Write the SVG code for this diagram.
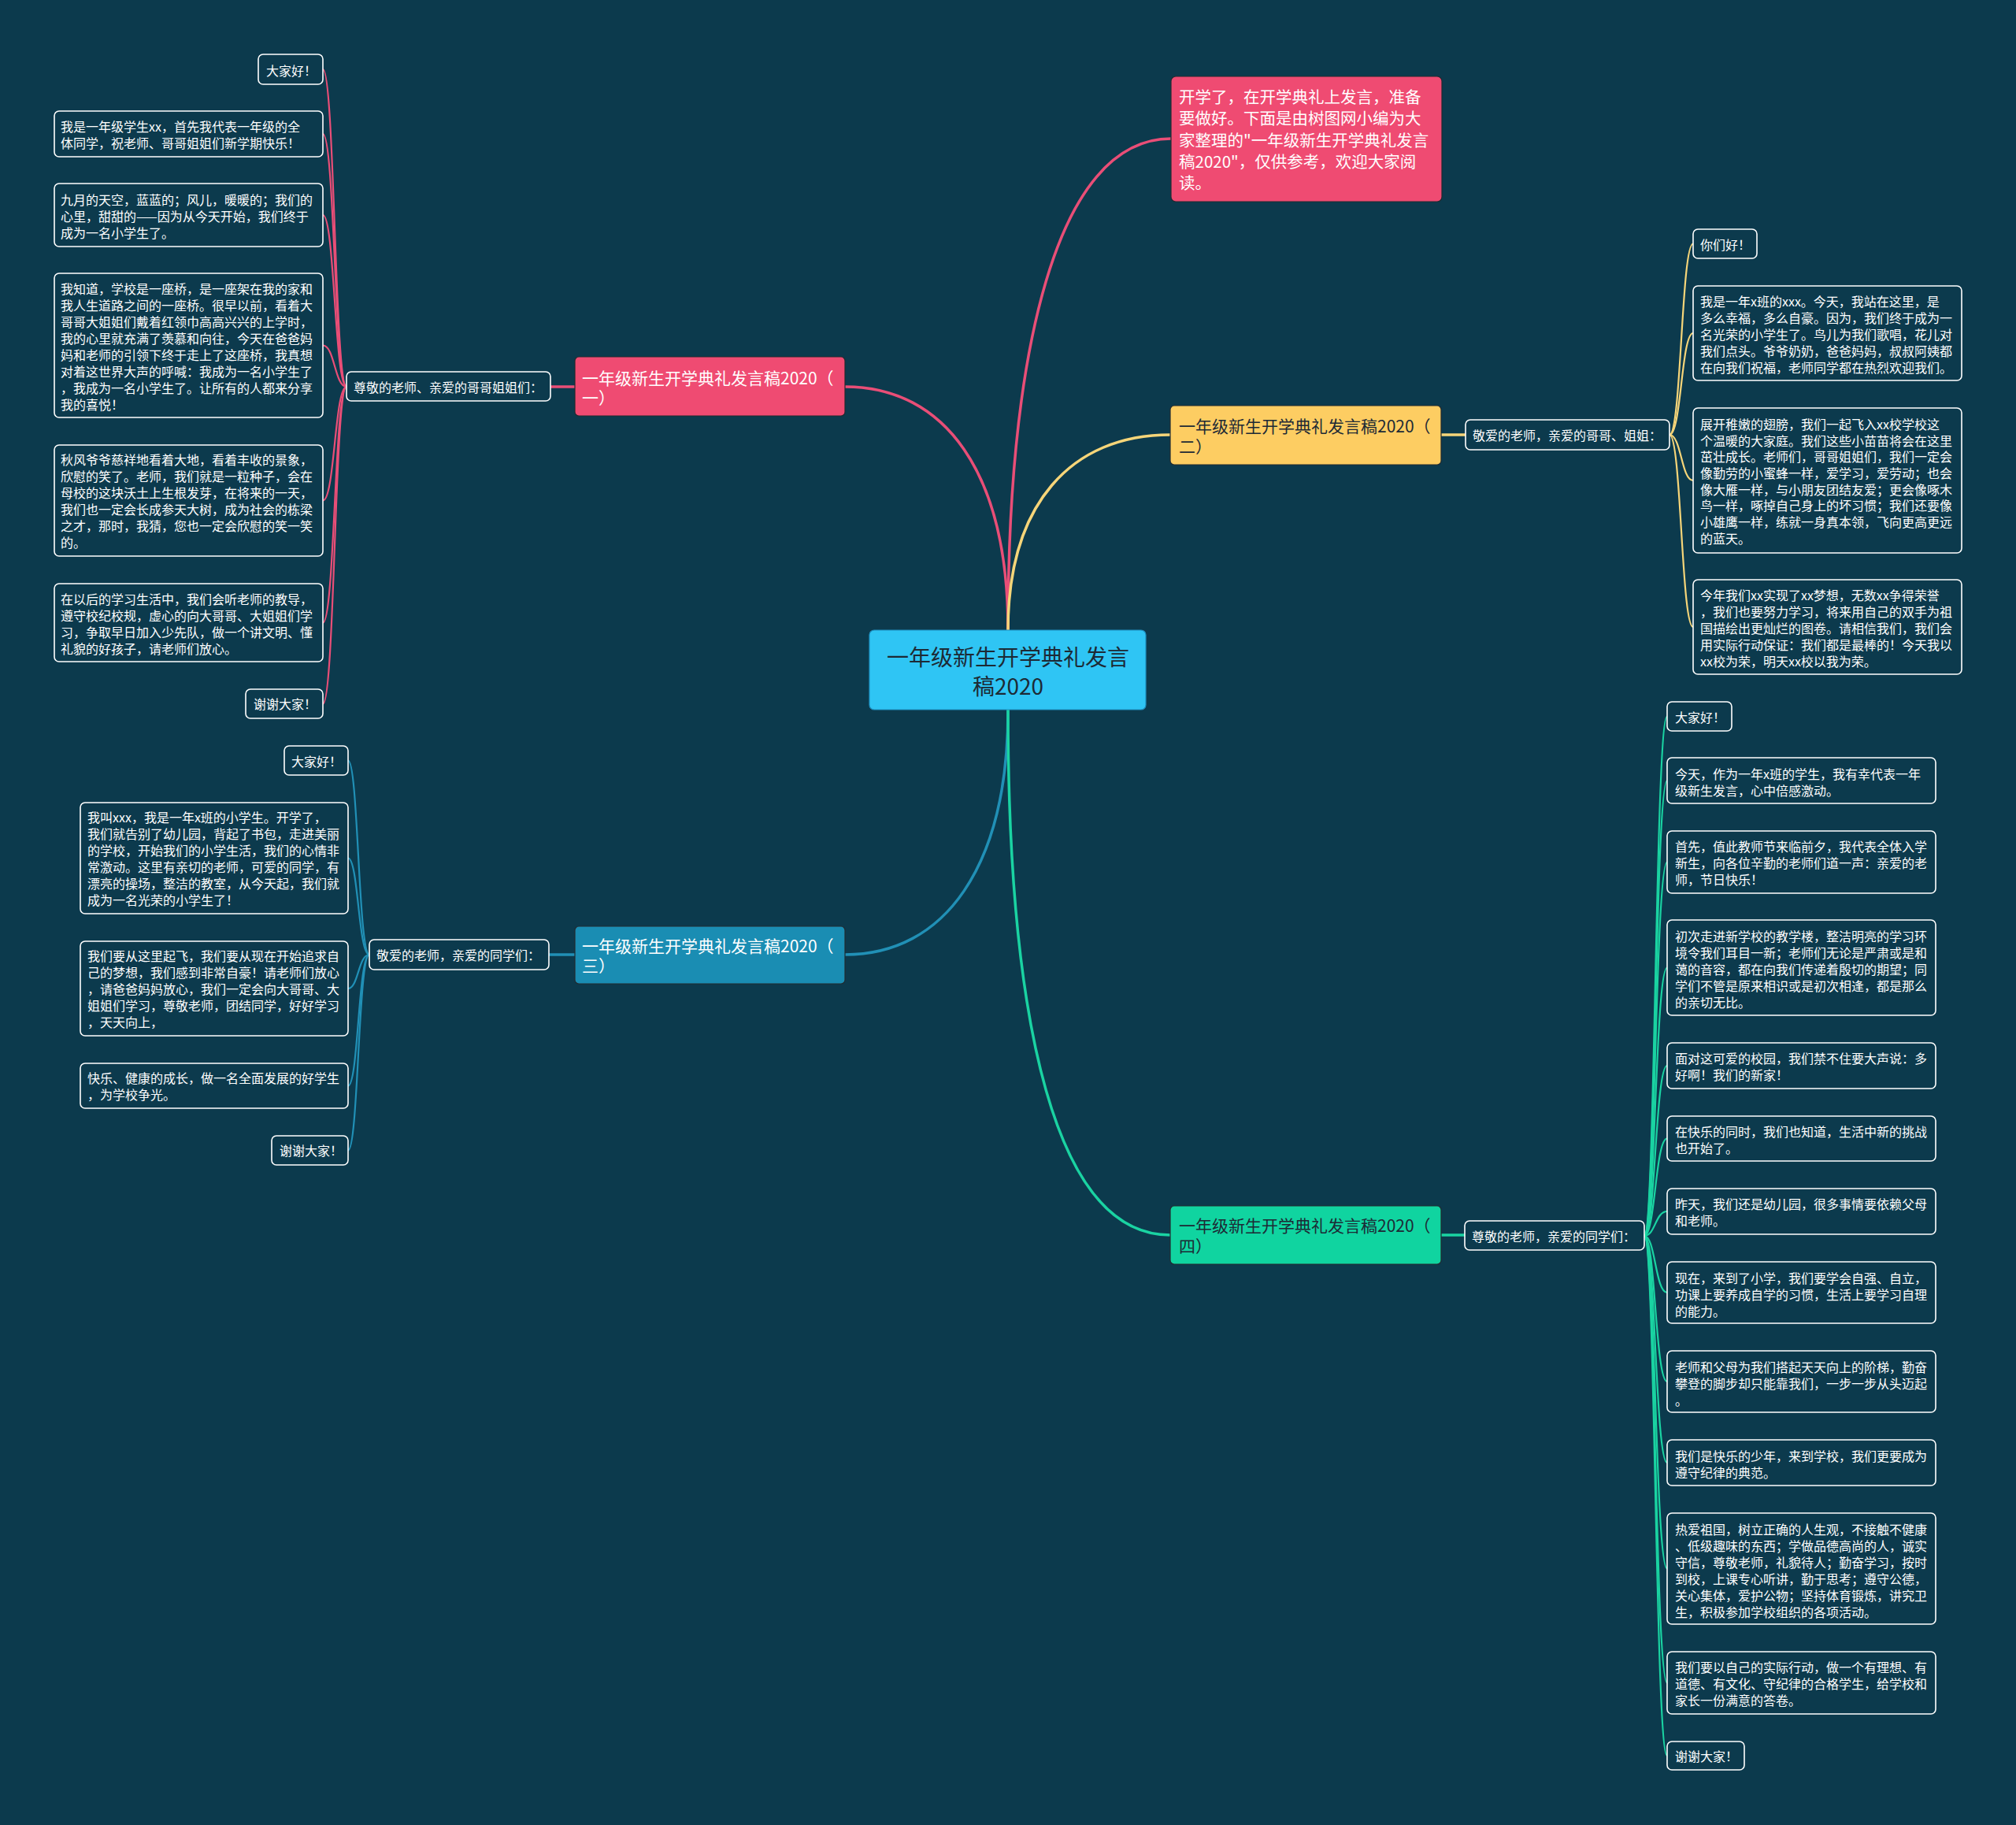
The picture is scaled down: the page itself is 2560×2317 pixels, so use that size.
<svg xmlns="http://www.w3.org/2000/svg" width="2560" height="2317" viewBox="0 0 2560 2317">
<style>
text{font-family:"Noto Sans CJK SC","Noto Sans",sans-serif;dominant-baseline:central}
.bg{fill:#0c3a4d}
.leaf rect{fill:#0c3a4d;stroke:#ffffff;stroke-width:1.6}
.leaf text{fill:#ffffff;font-size:16px}
.lab rect{fill:#0c3a4d;stroke:#ffffff;stroke-width:1.6}
.lab text{fill:#ffffff;font-size:16px}
.br rect{stroke:#222a30;stroke-width:1.2}
.br text{font-size:21px}
.main{fill:none;stroke-width:3.5}
.sub{fill:none;stroke-width:2.2}
.pk{stroke:#e94e77}
.yl{stroke:#f6d579}
.bl{stroke:#2190b6}
.gn{stroke:#1ad3a2}
.dk{fill:#1d2a35}
.wt{fill:#ffffff}
</style>
<rect class="bg" x="0" y="0" width="2560" height="2317"/>

<g id="connectors">
<path class="main pk" d="M1280 800 C1280 450 1340 176 1487 176"/>
<path class="main pk" d="M1280 800 C1280 600 1200 491 1073 491"/>
<path class="main yl" d="M1280 800 C1280 640 1360 552 1486 552"/>
<path class="main bl" d="M1280 901 C1280 1100 1200 1212 1073 1212"/>
<path class="main gn" d="M1280 901 C1280 1300 1340 1568 1486 1568"/>
<path class="main pk" d="M730 491 L699 491"/>
<path class="main bl" d="M730 1212 L697 1212"/>
<path class="main yl" d="M1830 552 L1861 552"/>
<path class="main gn" d="M1830 1568 L1860 1568"/>
<g class="sub pk">
<path d="M440 491 C425 491 425 88 410 88"/>
<path d="M440 491 C425 491 425 170 410 170"/>
<path d="M440 491 C425 491 425 273 410 273"/>
<path d="M440 491 C425 491 425 438.5 410 438.5"/>
<path d="M440 491 C425 491 425 635.5 410 635.5"/>
<path d="M440 491 C425 491 425 790.5 410 790.5"/>
<path d="M440 491 C425 491 425 893.5 410 893.5"/>
</g>
<g class="sub bl">
<path d="M469 1212 C455 1212 455 965.5 442 965.5"/>
<path d="M469 1212 C455 1212 455 1089.5 442 1089.5"/>
<path d="M469 1212 C455 1212 455 1255 442 1255"/>
<path d="M469 1212 C455 1212 455 1378.5 442 1378.5"/>
<path d="M469 1212 C455 1212 455 1460.5 442 1460.5"/>
</g>
<g class="sub yl">
<path d="M2120 552 C2135 552 2135 309.5 2150 309.5"/>
<path d="M2120 552 C2135 552 2135 423 2150 423"/>
<path d="M2120 552 C2135 552 2135 610 2150 610"/>
<path d="M2120 552 C2135 552 2135 796 2150 796"/>
</g>
<g class="sub gn">
<path d="M2088 1569 C2102 1569 2102 909.5 2117 909.5"/>
<path d="M2088 1569 C2102 1569 2102 991 2117 991"/>
<path d="M2088 1569 C2102 1569 2102 1094.5 2117 1094.5"/>
<path d="M2088 1569 C2102 1569 2102 1228.5 2117 1228.5"/>
<path d="M2088 1569 C2102 1569 2102 1353 2117 1353"/>
<path d="M2088 1569 C2102 1569 2102 1445.5 2117 1445.5"/>
<path d="M2088 1569 C2102 1569 2102 1538 2117 1538"/>
<path d="M2088 1569 C2102 1569 2102 1641 2117 1641"/>
<path d="M2088 1569 C2102 1569 2102 1754 2117 1754"/>
<path d="M2088 1569 C2102 1569 2102 1857 2117 1857"/>
<path d="M2088 1569 C2102 1569 2102 1991.5 2117 1991.5"/>
<path d="M2088 1569 C2102 1569 2102 2136.5 2117 2136.5"/>
<path d="M2088 1569 C2102 1569 2102 2229 2117 2229"/>
</g>
</g>

<g id="center">
<rect x="1104" y="800" width="351" height="101" rx="6" fill="#2fc5f4" stroke="#1f8fc0" stroke-width="1.2"/>
<text x="1280" y="833" text-anchor="middle" font-size="28" class="dk">一年级新生开学典礼发言</text>
<text x="1280" y="870" text-anchor="middle" font-size="28" class="dk">稿2020</text>
</g>

<g id="intro">
<rect x="1487" y="97" width="344" height="159" rx="6" fill="#ef4b72" stroke="#222a30" stroke-width="1.2"/>
<text font-size="20.5" class="wt">
<tspan x="1497" y="122">开学了，在开学典礼上发言，准备</tspan>
<tspan x="1497" y="149">要做好。下面是由树图网小编为大</tspan>
<tspan x="1497" y="177">家整理的&quot;一年级新生开学典礼发言</tspan>
<tspan x="1497" y="204">稿2020&quot;，仅供参考，欢迎大家阅</tspan>
<tspan x="1497" y="231">读。</tspan>
</text>
</g>

<g id="branch1" class="br">
<rect x="730" y="453" width="343" height="75" rx="5" fill="#ef4b72"/>
<text class="wt"><tspan x="739" y="479">一年级新生开学典礼发言稿2020（</tspan><tspan x="739" y="504">一）</tspan></text>
</g>
<g id="branch2" class="br">
<rect x="1486" y="515" width="344" height="75" rx="5" fill="#fdcd62"/>
<text class="dk"><tspan x="1497" y="540">一年级新生开学典礼发言稿2020（</tspan><tspan x="1497" y="566">二）</tspan></text>
</g>
<g id="branch3" class="br">
<rect x="730" y="1176" width="343" height="73" rx="5" fill="#1a8db3"/>
<text class="wt"><tspan x="739" y="1200">一年级新生开学典礼发言稿2020（</tspan><tspan x="739" y="1225">三）</tspan></text>
</g>
<g id="branch4" class="br">
<rect x="1486" y="1531" width="344" height="74" rx="5" fill="#10d4a0"/>
<text class="dk"><tspan x="1497" y="1555">一年级新生开学典礼发言稿2020（</tspan><tspan x="1497" y="1581">四）</tspan></text>
</g>

<g id="label1" class="lab"><rect x="440" y="472" width="259" height="37" rx="6"/><text x="449" y="491">尊敬的老师、亲爱的哥哥姐姐们：</text></g>
<g id="label2" class="lab"><rect x="1861" y="533" width="259" height="38" rx="6"/><text x="1870" y="552">敬爱的老师，亲爱的哥哥、姐姐：</text></g>
<g id="label3" class="lab"><rect x="469" y="1193" width="228" height="38" rx="6"/><text x="478" y="1212">敬爱的老师，亲爱的同学们：</text></g>
<g id="label4" class="lab"><rect x="1860" y="1550" width="228" height="37" rx="6"/><text x="1869" y="1569">尊敬的老师，亲爱的同学们：</text></g>

<g id="l1a" class="leaf"><rect x="328" y="69" width="82" height="38" rx="6"/><text x="338" y="89">大家好！</text></g>
<g id="l1b" class="leaf"><rect x="69" y="141" width="341" height="58" rx="6"/><text><tspan x="77" y="160">我是一年级学生xx，首先我代表一年级的全</tspan><tspan x="77" y="181">体同学，祝老师、哥哥姐姐们新学期快乐！</tspan></text></g>
<g id="l1c" class="leaf"><rect x="69" y="233" width="341" height="80" rx="6"/><text><tspan x="77" y="253">九月的天空，蓝蓝的；风儿，暖暖的；我们的</tspan><tspan x="77" y="274">心里，甜甜的——因为从今天开始，我们终于</tspan><tspan x="77" y="295">成为一名小学生了。</tspan></text></g>
<g id="l1d" class="leaf"><rect x="69" y="347" width="341" height="183" rx="6"/><text><tspan x="77" y="366">我知道，学校是一座桥，是一座架在我的家和</tspan><tspan x="77" y="387">我人生道路之间的一座桥。很早以前，看着大</tspan><tspan x="77" y="408">哥哥大姐姐们戴着红领巾高高兴兴的上学时，</tspan><tspan x="77" y="429">我的心里就充满了羡慕和向往，今天在爸爸妈</tspan><tspan x="77" y="450">妈和老师的引领下终于走上了这座桥，我真想</tspan><tspan x="77" y="471">对着这世界大声的呼喊：我成为一名小学生了</tspan><tspan x="77" y="492">，我成为一名小学生了。让所有的人都来分享</tspan><tspan x="77" y="513">我的喜悦！</tspan></text></g>
<g id="l1e" class="leaf"><rect x="69" y="565" width="341" height="141" rx="6"/><text><tspan x="77" y="583">秋风爷爷慈祥地看着大地，看着丰收的景象，</tspan><tspan x="77" y="604">欣慰的笑了。老师，我们就是一粒种子，会在</tspan><tspan x="77" y="625">母校的这块沃土上生根发芽，在将来的一天，</tspan><tspan x="77" y="646">我们也一定会长成参天大树，成为社会的栋梁</tspan><tspan x="77" y="667">之才，那时，我猜，您也一定会欣慰的笑一笑</tspan><tspan x="77" y="688">的。</tspan></text></g>
<g id="l1f" class="leaf"><rect x="69" y="741" width="341" height="99" rx="6"/><text><tspan x="77" y="760">在以后的学习生活中，我们会听老师的教导，</tspan><tspan x="77" y="781">遵守校纪校规，虚心的向大哥哥、大姐姐们学</tspan><tspan x="77" y="802">习，争取早日加入少先队，做一个讲文明、懂</tspan><tspan x="77" y="823">礼貌的好孩子，请老师们放心。</tspan></text></g>
<g id="l1g" class="leaf"><rect x="312" y="875" width="98" height="37" rx="6"/><text x="322" y="893">谢谢大家！</text></g>

<g id="l3a" class="leaf"><rect x="361" y="947" width="81" height="37" rx="6"/><text x="370" y="966">大家好！</text></g>
<g id="l3b" class="leaf"><rect x="102" y="1019" width="340" height="141" rx="6"/><text><tspan x="111" y="1037">我叫xxx，我是一年x班的小学生。开学了，</tspan><tspan x="111" y="1058">我们就告别了幼儿园，背起了书包，走进美丽</tspan><tspan x="111" y="1079">的学校，开始我们的小学生活，我们的心情非</tspan><tspan x="111" y="1100">常激动。这里有亲切的老师，可爱的同学，有</tspan><tspan x="111" y="1121">漂亮的操场，整洁的教室，从今天起，我们就</tspan><tspan x="111" y="1142">成为一名光荣的小学生了！</tspan></text></g>
<g id="l3c" class="leaf"><rect x="102" y="1195" width="340" height="120" rx="6"/><text><tspan x="111" y="1213">我们要从这里起飞，我们要从现在开始追求自</tspan><tspan x="111" y="1234">己的梦想，我们感到非常自豪！请老师们放心</tspan><tspan x="111" y="1255">，请爸爸妈妈放心，我们一定会向大哥哥、大</tspan><tspan x="111" y="1276">姐姐们学习，尊敬老师，团结同学，好好学习</tspan><tspan x="111" y="1297">，天天向上，</tspan></text></g>
<g id="l3d" class="leaf"><rect x="102" y="1350" width="340" height="57" rx="6"/><text><tspan x="111" y="1368">快乐、健康的成长，做一名全面发展的好学生</tspan><tspan x="111" y="1389">，为学校争光。</tspan></text></g>
<g id="l3e" class="leaf"><rect x="345" y="1442" width="97" height="37" rx="6"/><text x="355" y="1460">谢谢大家！</text></g>

<g id="r2a" class="leaf"><rect x="2150" y="291" width="81" height="37" rx="6"/><text x="2159" y="310">你们好！</text></g>
<g id="r2b" class="leaf"><rect x="2150" y="363" width="341" height="120" rx="6"/><text><tspan x="2159" y="382">我是一年x班的xxx。今天，我站在这里，是</tspan><tspan x="2159" y="403">多么幸福，多么自豪。因为，我们终于成为一</tspan><tspan x="2159" y="424">名光荣的小学生了。鸟儿为我们歌唱，花儿对</tspan><tspan x="2159" y="445">我们点头。爷爷奶奶，爸爸妈妈，叔叔阿姨都</tspan><tspan x="2159" y="466">在向我们祝福，老师同学都在热烈欢迎我们。</tspan></text></g>
<g id="r2c" class="leaf"><rect x="2150" y="518" width="341" height="184" rx="6"/><text><tspan x="2159" y="538">展开稚嫩的翅膀，我们一起飞入xx校学校这</tspan><tspan x="2159" y="559">个温暖的大家庭。我们这些小苗苗将会在这里</tspan><tspan x="2159" y="579">茁壮成长。老师们，哥哥姐姐们，我们一定会</tspan><tspan x="2159" y="600">像勤劳的小蜜蜂一样，爱学习，爱劳动；也会</tspan><tspan x="2159" y="621">像大雁一样，与小朋友团结友爱；更会像啄木</tspan><tspan x="2159" y="641">鸟一样，啄掉自己身上的坏习惯；我们还要像</tspan><tspan x="2159" y="662">小雄鹰一样，练就一身真本领，飞向更高更远</tspan><tspan x="2159" y="683">的蓝天。</tspan></text></g>
<g id="r2d" class="leaf"><rect x="2150" y="736" width="341" height="120" rx="6"/><text><tspan x="2159" y="755">今年我们xx实现了xx梦想，无数xx争得荣誉</tspan><tspan x="2159" y="776">，我们也要努力学习，将来用自己的双手为祖</tspan><tspan x="2159" y="797">国描绘出更灿烂的图卷。请相信我们，我们会</tspan><tspan x="2159" y="818">用实际行动保证：我们都是最棒的！今天我以</tspan><tspan x="2159" y="839">xx校为荣，明天xx校以我为荣。</tspan></text></g>

<g id="r4a" class="leaf"><rect x="2117" y="891" width="82" height="37" rx="6"/><text x="2127" y="910">大家好！</text></g>
<g id="r4b" class="leaf"><rect x="2117" y="962" width="341" height="58" rx="6"/><text><tspan x="2127" y="982">今天，作为一年x班的学生，我有幸代表一年</tspan><tspan x="2127" y="1003">级新生发言，心中倍感激动。</tspan></text></g>
<g id="r4c" class="leaf"><rect x="2117" y="1055" width="341" height="79" rx="6"/><text><tspan x="2127" y="1074">首先，值此教师节来临前夕，我代表全体入学</tspan><tspan x="2127" y="1095">新生，向各位辛勤的老师们道一声：亲爱的老</tspan><tspan x="2127" y="1116">师，节日快乐！</tspan></text></g>
<g id="r4d" class="leaf"><rect x="2117" y="1168" width="341" height="121" rx="6"/><text><tspan x="2127" y="1188">初次走进新学校的教学楼，整洁明亮的学习环</tspan><tspan x="2127" y="1209">境令我们耳目一新；老师们无论是严肃或是和</tspan><tspan x="2127" y="1230">蔼的音容，都在向我们传递着殷切的期望；同</tspan><tspan x="2127" y="1251">学们不管是原来相识或是初次相逢，都是那么</tspan><tspan x="2127" y="1272">的亲切无比。</tspan></text></g>
<g id="r4e" class="leaf"><rect x="2117" y="1324" width="341" height="58" rx="6"/><text><tspan x="2127" y="1343">面对这可爱的校园，我们禁不住要大声说：多</tspan><tspan x="2127" y="1364">好啊！我们的新家！</tspan></text></g>
<g id="r4f" class="leaf"><rect x="2117" y="1417" width="341" height="57" rx="6"/><text><tspan x="2127" y="1436">在快乐的同时，我们也知道，生活中新的挑战</tspan><tspan x="2127" y="1457">也开始了。</tspan></text></g>
<g id="r4g" class="leaf"><rect x="2117" y="1509" width="341" height="58" rx="6"/><text><tspan x="2127" y="1528">昨天，我们还是幼儿园，很多事情要依赖父母</tspan><tspan x="2127" y="1549">和老师。</tspan></text></g>
<g id="r4h" class="leaf"><rect x="2117" y="1602" width="341" height="78" rx="6"/><text><tspan x="2127" y="1622">现在，来到了小学，我们要学会自强、自立，</tspan><tspan x="2127" y="1643">功课上要养成自学的习惯，生活上要学习自理</tspan><tspan x="2127" y="1664">的能力。</tspan></text></g>
<g id="r4i" class="leaf"><rect x="2117" y="1715" width="341" height="78" rx="6"/><text><tspan x="2127" y="1735">老师和父母为我们搭起天天向上的阶梯，勤奋</tspan><tspan x="2127" y="1756">攀登的脚步却只能靠我们，一步一步从头迈起</tspan><tspan x="2127" y="1777">。</tspan></text></g>
<g id="r4j" class="leaf"><rect x="2117" y="1828" width="341" height="58" rx="6"/><text><tspan x="2127" y="1848">我们是快乐的少年，来到学校，我们更要成为</tspan><tspan x="2127" y="1869">遵守纪律的典范。</tspan></text></g>
<g id="r4k" class="leaf"><rect x="2117" y="1921" width="341" height="141" rx="6"/><text><tspan x="2127" y="1941">热爱祖国，树立正确的人生观，不接触不健康</tspan><tspan x="2127" y="1962">、低级趣味的东西；学做品德高尚的人，诚实</tspan><tspan x="2127" y="1983">守信，尊敬老师，礼貌待人；勤奋学习，按时</tspan><tspan x="2127" y="2004">到校，上课专心听讲，勤于思考；遵守公德，</tspan><tspan x="2127" y="2025">关心集体，爱护公物；坚持体育锻炼，讲究卫</tspan><tspan x="2127" y="2046">生，积极参加学校组织的各项活动。</tspan></text></g>
<g id="r4l" class="leaf"><rect x="2117" y="2097" width="341" height="79" rx="6"/><text><tspan x="2127" y="2116">我们要以自己的实际行动，做一个有理想、有</tspan><tspan x="2127" y="2137">道德、有文化、守纪律的合格学生，给学校和</tspan><tspan x="2127" y="2158">家长一份满意的答卷。</tspan></text></g>
<g id="r4m" class="leaf"><rect x="2117" y="2211" width="98" height="36" rx="6"/><text x="2127" y="2229">谢谢大家！</text></g>
</svg>
